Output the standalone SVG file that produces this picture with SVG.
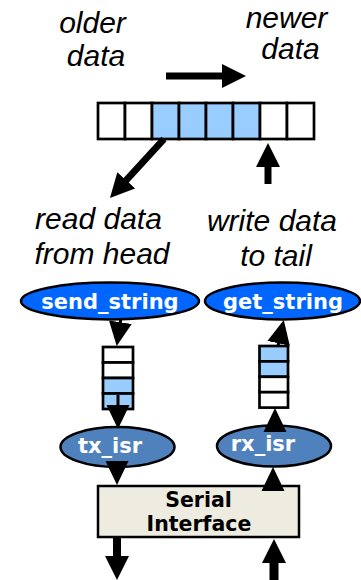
<svg xmlns="http://www.w3.org/2000/svg" width="361" height="580" viewBox="0 0 361 580">
<style>
.lbl{font-family:"Liberation Sans",Arial,sans-serif;font-style:italic;font-size:30px;fill:#000;text-anchor:middle}
.nt{font-family:"DejaVu Sans",Verdana,sans-serif;font-weight:bold;font-size:21px;fill:#fff;text-anchor:middle}
.bt{font-family:"DejaVu Sans",Verdana,sans-serif;font-weight:bold;font-size:20.5px;fill:#000;text-anchor:middle}
.cell{stroke:#000;stroke-width:2.7}
.e{fill:#fff}
.f{fill:#99ccff}
.fat{stroke:#000;fill:none}
.thin{stroke:#000;stroke-width:3;fill:none}
.ell{stroke:#000;stroke-width:2.5}
</style>
<defs>
<marker id="hf" markerUnits="userSpaceOnUse" viewBox="0 0 24 24" markerWidth="24" markerHeight="24" refX="1" refY="12" orient="auto"><path d="M0,0 L24,12 L0,24 z" fill="#000"/></marker>
<marker id="ht" markerUnits="userSpaceOnUse" viewBox="0 0 24 24" markerWidth="24" markerHeight="24" refX="1" refY="12" orient="auto"><path d="M0,0.5 L24,12 L0,23.5 z" fill="#000"/></marker>
</defs>
<g id="labels">
<text class="lbl" x="92.5" y="33">older</text>
<text class="lbl" x="96" y="66">data</text>
<text class="lbl" x="286.5" y="27.5">newer</text>
<text class="lbl" x="290.5" y="59">data</text>
<text class="lbl" x="98.5" y="229">read data</text>
<text class="lbl" x="102" y="264">from head</text>
<text class="lbl" x="272" y="231">write data</text>
<text class="lbl" x="276" y="266">to tail</text>
</g>
<g id="buffer">
<rect class="cell e" x="98" y="103" width="27" height="36"/>
<rect class="cell e" x="125" y="103" width="27" height="36"/>
<rect class="cell f" x="152" y="103" width="27" height="36"/>
<rect class="cell f" x="179" y="103" width="27" height="36"/>
<rect class="cell f" x="206" y="103" width="27" height="36"/>
<rect class="cell f" x="233" y="103" width="27" height="36"/>
<rect class="cell e" x="260" y="103" width="27" height="36"/>
<rect class="cell e" x="287" y="103" width="27" height="36"/>
</g>
<g id="send_string">
<ellipse class="ell" cx="110" cy="301" rx="89" ry="18.5" fill="#0066ff"/>
<text class="nt" x="110" y="309">send_string</text>
</g>
<g id="get_string">
<ellipse class="ell" cx="282.5" cy="301" rx="77.5" ry="18.5" fill="#0066ff"/>
<text class="nt" x="283" y="309">get_string</text>
</g>
<g id="tx_queue">
<rect class="cell e" x="103" y="347" width="30" height="15.5"/>
<rect class="cell e" x="103" y="362.5" width="30" height="15.5"/>
<rect class="cell f" x="103" y="378" width="30" height="15.5"/>
<rect class="cell f" x="103" y="393.5" width="30" height="15.5"/>
</g>
<g id="rx_queue">
<rect class="cell f" x="259.5" y="346" width="28.5" height="15.4"/>
<rect class="cell f" x="259.5" y="361.4" width="28.5" height="15.4"/>
<rect class="cell e" x="259.5" y="376.8" width="28.5" height="15.4"/>
<rect class="cell e" x="259.5" y="392.2" width="28.5" height="15.4"/>
</g>
<g id="tx_isr">
<ellipse class="ell" cx="117.5" cy="447" rx="57" ry="20" fill="#4f81bd"/>
<text class="nt" x="110" y="453">tx_isr</text>
</g>
<g id="rx_isr">
<ellipse class="ell" cx="274" cy="446" rx="57" ry="20.5" fill="#4f81bd"/>
<text class="nt" x="263" y="451">rx_isr</text>
</g>
<g id="serial_interface">
<rect x="98" y="486" width="201" height="51" fill="#eeece1" stroke="#000" stroke-width="2.5"/>
<text class="bt" x="198.5" y="507">Serial</text>
<text class="bt" x="199" y="531">Interface</text>
</g>
<g id="connectors">
<line class="fat" stroke-width="7" x1="166" y1="76" x2="223" y2="76" marker-end="url(#hf)"/>
<line class="fat" stroke-width="7" x1="164" y1="139" x2="125.5" y2="181" marker-end="url(#hf)"/>
<line class="fat" stroke-width="7" x1="268" y1="184" x2="268" y2="166" marker-end="url(#hf)"/>
<line class="thin" x1="121" y1="318" x2="120.2" y2="323.2" marker-end="url(#ht)"/>
<line class="thin" x1="118" y1="395" x2="118" y2="406" marker-end="url(#ht)"/>
<line class="thin" x1="117" y1="461" x2="117" y2="462" marker-end="url(#ht)"/>
<line class="thin" x1="273" y1="491" x2="273" y2="490" marker-end="url(#ht)"/>
<line class="thin" x1="275" y1="432" x2="275" y2="431" marker-end="url(#ht)"/>
<line class="thin" x1="278" y1="346" x2="278.8" y2="342.4" marker-end="url(#ht)"/>
<line class="fat" stroke-width="8" x1="117" y1="537" x2="117" y2="557" marker-end="url(#hf)"/>
<line class="fat" stroke-width="9" x1="274" y1="580" x2="274" y2="562" marker-end="url(#hf)"/>
</g>
</svg>
